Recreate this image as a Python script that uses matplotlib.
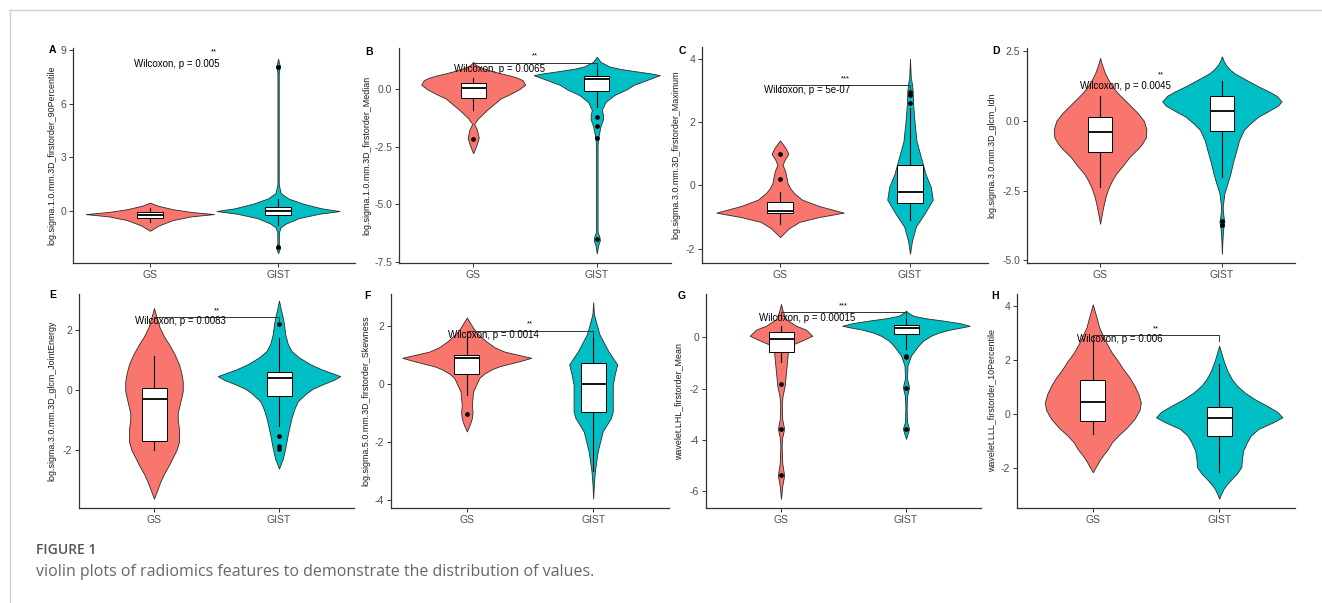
import matplotlib
matplotlib.use("Agg")
import matplotlib.pyplot as plt
from matplotlib.lines import Line2D
import numpy as np

plt.rcParams["font.family"] = ["Liberation Sans", "DejaVu Sans"]
plt.rcParams["axes.unicode_minus"] = False

W, H = 1322, 603

groups = ["GS", "GIST"]
colors = ["#F8766D", "#00BFC4"]
panels = ["A", "B", "C", "D", "E", "F", "G", "H"]
features = [
    "log.sigma.1.0.mm.3D_firstorder_90Percentile",
    "log.sigma.1.0.mm.3D_firstorder_Median",
    "log.sigma.3.0.mm.3D_firstorder_Maximum",
    "log.sigma.3.0.mm.3D_glcm_Idn",
    "log.sigma.3.0.mm.3D_glcm_JointEnergy",
    "log.sigma.5.0.mm.3D_firstorder_Skewness",
    "wavelet.LHL_firstorder_Mean",
    "wavelet.LLL_firstorder_10Percentile",
]
p_labels = ["Wilcoxon, p = 0.005", "Wilcoxon, p = 0.0065", "Wilcoxon, p = 5e-07",
            "Wilcoxon, p = 0.0045", "Wilcoxon, p = 0.0083", "Wilcoxon, p = 0.0014",
            "Wilcoxon, p = 0.00015", "Wilcoxon, p = 0.006"]
stars = ["**", "**", "***", "**", "**", "**", "***", "**"]
label_y = [8.2, 0.87, 3.02, 1.24, 2.33, 1.68, 0.75, 2.76]
stars_y = [8.9, 1.45, 3.37, 1.66, 2.66, 2.05, 1.23, 3.15]
bracket_y = [None, 1.13, 3.16, None, 2.46, 1.82, 0.97, 2.91]

y_ticks = [[0, 3, 6, 9], [-7.5, -5.0, -2.5, 0.0], [-2, 0, 2, 4], [-5.0, -2.5, 0.0, 2.5],
           [-2, 0, 2], [-4, -2, 0, 2], [-6, -4, -2, 0], [-2, 0, 2, 4]]
y_limits = [(-2.9, 9.1), (-7.55, 1.8), (-2.45, 4.37), (-5.1, 2.62),
            (-3.94, 3.22), (-4.29, 3.09), (-6.66, 1.69), (-3.47, 4.43)]

# violin outlines: (value, half width) from top to bottom
vio_a_gs = [(0.47, 0), (0.3, 0.06), (0.1, 0.18), (-0.05, 0.32), (-0.17, 0.5), (-0.3, 0.32),
            (-0.5, 0.18), (-0.8, 0.07), (-1.1, 0)]
vio_a_gist = [(8.5, 0), (8.3, 0.006), (8.15, 0.012), (8.06, 0.016), (7.95, 0.01), (7.7, 0.005),
              (1.5, 0.005), (1.0, 0.02), (0.7, 0.08), (0.4, 0.2), (0.15, 0.34), (0.0, 0.48),
              (-0.15, 0.32), (-0.4, 0.16), (-0.7, 0.06), (-0.9, 0.02), (-1.2, 0.006),
              (-1.85, 0.006), (-2.03, 0.016), (-2.2, 0.008), (-2.35, 0)]
vio_b_gs = [(1.2, 0), (1.1, 0.015), (1.0, 0.04), (0.9, 0.09), (0.8, 0.15), (0.7, 0.22),
            (0.6, 0.3), (0.5, 0.36), (0.4, 0.4), (0.2, 0.42), (0.0, 0.37), (-0.2, 0.3),
            (-0.4, 0.22), (-0.54, 0.19), (-0.9, 0.11), (-1.26, 0.04), (-1.5, 0.008),
            (-1.75, 0.03), (-2.1, 0.045), (-2.45, 0.025), (-2.78, 0)]
vio_b_gist = [(1.42, 0), (1.2, 0.03), (1.0, 0.1), (0.9, 0.18), (0.8, 0.3), (0.7, 0.43),
              (0.62, 0.51), (0.5, 0.45), (0.4, 0.4), (0.2, 0.3), (0.0, 0.24), (-0.25, 0.14),
              (-0.55, 0.07), (-0.9, 0.04), (-1.1, 0.05), (-1.3, 0.05), (-1.6, 0.03),
              (-2.0, 0.015), (-2.4, 0.006), (-6.2, 0.006), (-6.4, 0.02), (-6.55, 0.025),
              (-6.8, 0.01), (-7.13, 0)]
vio_c_gs = [(1.42, 0), (1.2, 0.04), (1.0, 0.065), (0.8, 0.035), (0.65, 0.02), (0.45, 0.04),
            (0.25, 0.05), (0.05, 0.06), (-0.1, 0.08), (-0.25, 0.11), (-0.45, 0.17), (-0.65, 0.3),
            (-0.86, 0.49), (-1.0, 0.3), (-1.15, 0.15), (-1.35, 0.07), (-1.63, 0)]
vio_c_gist = [(4.0, 0), (3.4, 0.006), (3.2, 0.015), (3.0, 0.02), (2.5, 0.025), (2.0, 0.035),
              (1.4, 0.05), (0.8, 0.09), (0.35, 0.12), (-0.05, 0.16), (-0.45, 0.175), (-0.9, 0.11),
              (-1.3, 0.045), (-1.75, 0.015), (-2.16, 0)]
vio_d_gs = [(2.26, 0), (2.1, 0.01), (1.9, 0.025), (1.72, 0.04), (1.5, 0.065), (1.24, 0.1),
            (1.0, 0.145), (0.76, 0.2), (0.5, 0.26), (0.28, 0.31), (0.0, 0.36), (-0.3, 0.38),
            (-0.6, 0.375), (-0.85, 0.34), (-1.04, 0.3), (-1.3, 0.24), (-1.64, 0.18),
            (-1.9, 0.13), (-2.12, 0.1), (-2.4, 0.07), (-2.72, 0.045), (-3.0, 0.03),
            (-3.32, 0.015), (-3.69, 0)]
vio_d_gist = [(2.32, 0), (2.15, 0.015), (2.0, 0.035), (1.85, 0.065), (1.72, 0.1), (1.5, 0.19),
              (1.24, 0.3), (1.05, 0.39), (0.9, 0.45), (0.7, 0.49), (0.55, 0.46), (0.45, 0.42),
              (0.3, 0.36), (0.16, 0.3), (-0.1, 0.23), (-0.32, 0.18), (-0.7, 0.14), (-1.04, 0.12),
              (-1.5, 0.09), (-1.88, 0.07), (-2.25, 0.045), (-2.6, 0.02), (-3.1, 0.006),
              (-3.4, 0.012), (-3.62, 0.02), (-3.9, 0.01), (-4.3, 0.004), (-4.77, 0)]
vio_e_gs = [(2.75, 0), (2.45, 0.02), (2.1, 0.045), (1.8, 0.08), (1.54, 0.12), (1.2, 0.165),
            (0.87, 0.2), (0.55, 0.22), (0.3, 0.23), (-0.03, 0.23), (-0.4, 0.21), (-0.75, 0.19),
            (-1.0, 0.19), (-1.3, 0.2), (-1.72, 0.2), (-2.0, 0.18), (-2.25, 0.15), (-2.5, 0.12),
            (-2.8, 0.08), (-3.07, 0.05), (-3.35, 0.025), (-3.63, 0)]
vio_e_gist = [(3.0, 0), (2.7, 0.015), (2.44, 0.03), (2.2, 0.04), (1.87, 0.05), (1.55, 0.07),
              (1.31, 0.1), (1.1, 0.16), (0.87, 0.25), (0.7, 0.34), (0.55, 0.44), (0.47, 0.49),
              (0.35, 0.44), (0.2, 0.35), (0.05, 0.27), (-0.1, 0.22), (-0.37, 0.15),
              (-0.65, 0.12), (-0.93, 0.1), (-1.2, 0.085), (-1.49, 0.07), (-1.94, 0.05),
              (-2.3, 0.03), (-2.62, 0)]
vio_f_gs = [(2.28, 0), (2.1, 0.025), (1.92, 0.05), (1.7, 0.09), (1.47, 0.15), (1.25, 0.22),
            (1.1, 0.3), (0.98, 0.42), (0.89, 0.51), (0.8, 0.44), (0.7, 0.35), (0.6, 0.26),
            (0.5, 0.2), (0.35, 0.14), (0.2, 0.1), (-0.27, 0.05), (-0.73, 0.04), (-1.0, 0.045),
            (-1.19, 0.04), (-1.4, 0.025), (-1.65, 0)]
vio_f_gist = [(2.8, 0), (2.4, 0.006), (2.0, 0.03), (1.7, 0.05), (1.12, 0.12), (0.66, 0.19),
              (0.3, 0.17), (-0.03, 0.155), (-0.61, 0.155), (-0.96, 0.155), (-1.19, 0.14),
              (-1.65, 0.075), (-2.35, 0.035), (-3.04, 0.013), (-3.5, 0.005), (-3.97, 0)]
vio_g_gs = [(1.3, 0), (1.0, 0.015), (0.71, 0.04), (0.45, 0.12), (0.3, 0.2), (0.06, 0.25),
            (-0.12, 0.17), (-0.32, 0.075), (-0.6, 0.055), (-1.36, 0.04), (-1.88, 0.03),
            (-2.3, 0.012), (-2.66, 0.006), (-3.2, 0.01), (-3.57, 0.025), (-3.9, 0.01),
            (-4.22, 0.005), (-4.9, 0.01), (-5.39, 0.025), (-5.8, 0.01), (-6.3, 0)]
vio_g_gist = [(1.04, 0), (0.95, 0.02), (0.84, 0.06), (0.75, 0.15), (0.65, 0.3), (0.55, 0.43),
              (0.45, 0.51), (0.38, 0.44), (0.3, 0.35), (0.18, 0.26), (0.06, 0.2), (-0.12, 0.14),
              (-0.32, 0.1), (-0.71, 0.04), (-1.1, 0.012), (-1.6, 0.008), (-1.95, 0.025),
              (-2.3, 0.008), (-2.8, 0.005), (-3.3, 0.008), (-3.57, 0.025), (-3.8, 0.01), (-3.96, 0)]
vio_h_gs = [(4.05, 0), (3.8, 0.015), (3.56, 0.03), (3.2, 0.05), (2.89, 0.08), (2.6, 0.11),
            (2.27, 0.15), (1.95, 0.2), (1.66, 0.24), (1.35, 0.29), (1.04, 0.33), (0.75, 0.36),
            (0.43, 0.38), (0.15, 0.37), (-0.18, 0.33), (-0.5, 0.27), (-0.8, 0.2), (-1.05, 0.15),
            (-1.29, 0.12), (-1.5, 0.085), (-1.66, 0.06), (-1.9, 0.03), (-2.15, 0)]
vio_h_gist = [(2.52, 0), (2.2, 0.02), (1.9, 0.04), (1.6, 0.065), (1.29, 0.1), (1.05, 0.14),
              (0.8, 0.2), (0.55, 0.28), (0.3, 0.38), (0.08, 0.46), (-0.12, 0.5), (-0.3, 0.43),
              (-0.55, 0.31), (-0.8, 0.25), (-1.04, 0.22), (-1.35, 0.19), (-1.66, 0.18),
              (-1.96, 0.175), (-2.2, 0.14), (-2.39, 0.1), (-2.6, 0.06), (-2.76, 0.035),
              (-3.0, 0.01), (-3.13, 0)]

# box stats: lower whisker, q1, median, q3, upper whisker
box_a_gs, box_a_gist = [-0.6, -0.41, -0.22, -0.07, 0.15], [-0.8, -0.22, 0.0, 0.24, 0.7]
box_b_gs, box_b_gist = [-0.9, -0.39, 0.04, 0.26, 0.48], [-0.75, -0.06, 0.45, 0.59, 1.15]
box_c_gs, box_c_gist = [-1.21, -0.87, -0.81, -0.53, -0.21], [-1.1, -0.55, -0.21, 0.66, 2.45]
box_d_gs, box_d_gist = [-2.36, -1.1, -0.38, 0.16, 0.9], [-2.0, -0.35, 0.34, 0.88, 1.42]
box_e_gs, box_e_gist = [-2.0, -1.69, -0.28, 0.08, 1.15], [-1.2, -0.18, 0.42, 0.62, 1.75]
box_f_gs, box_f_gist = [-0.38, 0.34, 0.87, 0.97, 1.7], [-3.0, -0.98, 0.0, 0.72, 1.6]
box_g_gs, box_g_gist = [-0.97, -0.58, -0.06, 0.19, 0.45], [-0.45, 0.13, 0.35, 0.48, 0.71]
box_h_gs, box_h_gist = [-0.74, -0.25, 0.45, 1.26, 2.88], [-2.15, -0.82, -0.15, 0.25, 1.84]

# outlying points
out_a_gs, out_a_gist = [], [8.06, -2.03]
out_b_gs, out_b_gist = [-2.14], [-1.22, -1.6, -2.1, -6.52]
out_c_gs, out_c_gist = [1.0, 0.2], [2.6, 2.85, 2.95]
out_d_gs, out_d_gist = [], [-3.6, -3.72]
out_e_gs, out_e_gist = [], [2.2, -1.53, -1.85, -1.95]
out_f_gs, out_f_gist = [-1.05], []
out_g_gs, out_g_gist = [-1.82, -3.58, -5.39], [-0.73, -0.78, -1.97, -3.57]
out_h_gs, out_h_gist = [], []

violins = [(vio_a_gs, vio_a_gist), (vio_b_gs, vio_b_gist), (vio_c_gs, vio_c_gist),
           (vio_d_gs, vio_d_gist), (vio_e_gs, vio_e_gist), (vio_f_gs, vio_f_gist),
           (vio_g_gs, vio_g_gist), (vio_h_gs, vio_h_gist)]
boxes = [(box_a_gs, box_a_gist), (box_b_gs, box_b_gist), (box_c_gs, box_c_gist),
         (box_d_gs, box_d_gist), (box_e_gs, box_e_gist), (box_f_gs, box_f_gist),
         (box_g_gs, box_g_gist), (box_h_gs, box_h_gist)]
outliers = [(out_a_gs, out_a_gist), (out_b_gs, out_b_gist), (out_c_gs, out_c_gist),
            (out_d_gs, out_d_gist), (out_e_gs, out_e_gist), (out_f_gs, out_f_gist),
            (out_g_gs, out_g_gist), (out_h_gs, out_h_gist)]

# axes boxes in pixels: left, top, right, bottom; label offset from spine
axes_px = [(73, 48, 355, 263), (399, 48, 671, 263), (702, 47, 988, 263), (1027, 48, 1295, 263),
           (79, 294, 354, 508), (391, 294, 669, 508), (706, 294, 981, 508), (1017, 294, 1295, 508)]
ylabel_off = [17, 28, 22, 31, 23, 21, 23, 21]
letter_px = [(52, 50), (369, 52), (682, 51), (996, 51), (53, 295), (367, 296), (682, 296), (995, 296)]

fig = plt.figure(figsize=(W / 100, H / 100), dpi=100)

for i in range(8):
    l, t, r, b = axes_px[i]
    ax = fig.add_axes([l / W, 1 - b / H, (r - l) / W, (b - t) / H])

    for k in range(2):
        prof = np.array(violins[i][k])
        ys, hw = prof[:, 0], prof[:, 1]
        ax.fill_betweenx(ys, k + 1 - hw, k + 1 + hw, facecolor=colors[k],
                         edgecolor="#2b2b2b", linewidth=0.6, zorder=2)

    stats = []
    for k in range(2):
        lo, q1, med, q3, hi = boxes[i][k]
        stats.append(dict(whislo=lo, q1=q1, med=med, q3=q3, whishi=hi,
                          fliers=outliers[i][k]))
    ax.bxp(stats, positions=[1, 2], widths=0.2, showcaps=False, patch_artist=True,
           manage_ticks=False, zorder=3,
           boxprops=dict(facecolor="white", edgecolor="black", linewidth=0.7),
           whiskerprops=dict(color="black", linewidth=0.8),
           medianprops=dict(color="black", linewidth=1.3),
           flierprops=dict(marker="o", markerfacecolor="black", markeredgecolor="black",
                           markersize=2.4))

    if bracket_y[i] is not None:
        by = bracket_y[i]
        leg = 0.025 * (y_limits[i][1] - y_limits[i][0])
        ax.plot([1, 1, 2, 2], [by - leg, by, by, by - leg], color="#333333",
                linewidth=0.7, zorder=4)
    ax.text(1.21, label_y[i], p_labels[i], ha="center", va="center", fontsize=7, zorder=5)
    ax.text(1.5, stars_y[i], stars[i], ha="center", va="center", fontsize=5.5, zorder=5)

    ax.set_xlim(0.4, 2.6)
    ax.set_ylim(*y_limits[i])
    ax.set_xticks([1, 2])
    ax.set_xticklabels(groups)
    ax.set_yticks(y_ticks[i])
    if i in (1, 3):
        ax.set_yticklabels(["%.1f" % v for v in y_ticks[i]])
    else:
        ax.set_yticklabels(["%d" % v for v in y_ticks[i]])
    ax.tick_params(labelsize=7.5, length=3, width=0.7, colors="#333333", labelcolor="#4d4d4d", pad=2)
    for side in ("top", "right"):
        ax.spines[side].set_visible(False)
    for side in ("left", "bottom"):
        ax.spines[side].set_linewidth(0.9)
        ax.spines[side].set_color("#333333")

    ax.set_ylabel(features[i], fontsize=6.4, color="#1a1a1a")
    ax.yaxis.set_label_coords(-ylabel_off[i] / (r - l), 0.5)

    lx, ly = letter_px[i]
    fig.text(lx / W, 1 - ly / H, panels[i], fontsize=7.5, fontweight="bold", ha="center", va="center")

# page frame and caption
fig.add_artist(Line2D([9 / W, 1], [1 - 10 / H, 1 - 10 / H], color="#d0d0d0", linewidth=1))
fig.add_artist(Line2D([9.5 / W, 9.5 / W], [0, 1 - 10 / H], color="#d0d0d0", linewidth=1))
fig.text(36 / W, 1 - 550 / H, "FIGURE 1", fontsize=10, color="#555555", fontweight="semibold",
         family=["Open Sans", "DejaVu Sans"], va="center")
fig.text(36 / W, 1 - 572 / H, "violin plots of radiomics features to demonstrate the distribution of values.",
         fontsize=11.5, color="#666666", family=["Open Sans", "DejaVu Sans"], va="center")

fig.savefig("out.png", dpi=100)
